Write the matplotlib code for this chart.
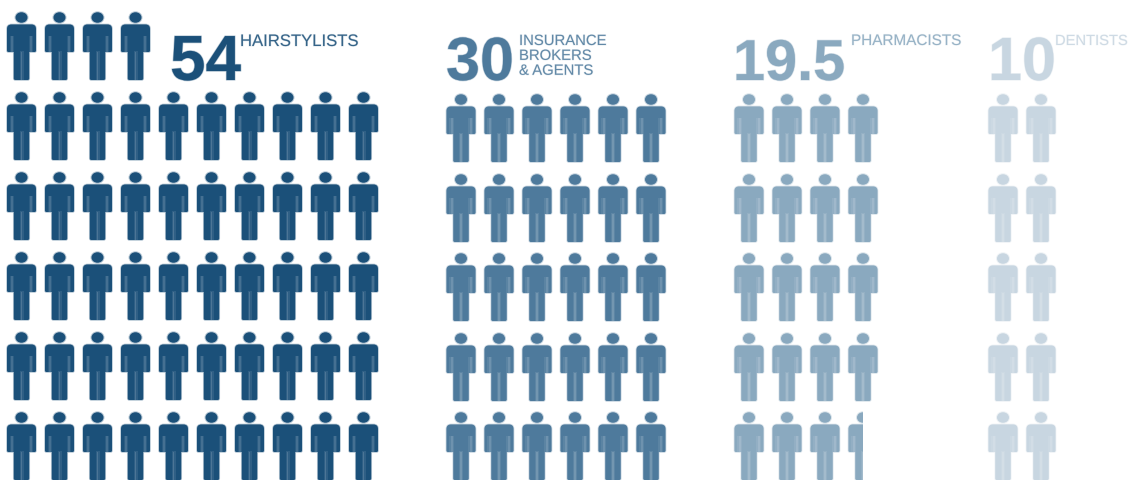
import math
import matplotlib
matplotlib.use("Agg")
import matplotlib.pyplot as plt
from matplotlib.patches import Ellipse, Rectangle, PathPatch
from matplotlib.path import Path
import matplotlib.patheffects as pe

# data
occupations = ["HAIRSTYLISTS", "INSURANCE\nBROKERS\n& AGENTS", "PHARMACISTS", "DENTISTS"]
value_labels = ["54", "30", "19.5", "10"]
values = [54, 30, 19.5, 10]
per_row = [10, 6, 4, 2]

colors = ["#1B5079", "#4E7A9C", "#8AA9BF", "#C8D6E1"]
first_x = [21.5, 461, 749, 1003]
row_tops = [[12, 92, 172, 252, 332, 412],
            [None, 94, 174, 253, 333, 412],
            [None, 94, 174, 253, 333, 412],
            [None, 94, 174, 253, 333, 412]]
num_x = [170, 446, 733, 988]
num_size = [46, 44, 41.5, 44]
label_x = [240, 519, 851, 1055]
label_y = [34, 34, 34, 34]
label_size = [12, 10.7, 11, 10.6]
STEP = 38
HALF = 14.5

fig = plt.figure(figsize=(11.28, 4.8), dpi=100)
ax = fig.add_axes([0, 0, 1, 1])
ax.set_xlim(0, 1128)
ax.set_ylim(480, 0)
ax.axis("off")


def body_path(cx, top):
    """Standing figure outline with rounded shoulders, relative to centre and top."""
    L, C, Z = Path.LINETO, Path.CURVE3, Path.CLOSEPOLY
    steps = [(Path.MOVETO, -10, 12.5), (L, 10, 12.5), (C, 14.5, 12.5), (C, 14.5, 17),
             (L, 14.5, 38.5), (C, 14.5, 40), (C, 13, 40), (L, 7.7, 40), (L, 7.7, 66.5),
             (C, 7.7, 68), (C, 6, 68), (L, -6, 68), (C, -7.7, 68), (C, -7.7, 66.5),
             (L, -7.7, 40), (L, -13, 40), (C, -14.5, 40), (C, -14.5, 38.5),
             (L, -14.5, 17), (C, -14.5, 12.5), (C, -10, 12.5), (Z, -10, 12.5)]
    return Path([(cx + x, top + y) for _, x, y in steps], [s[0] for s in steps])


def person(cx, top, color, fraction=1.0):
    artists = [
        PathPatch(body_path(cx, top), fc=color, ec=color, lw=1.2, alpha=0.3),
        Ellipse((cx, top + 5.5), 14, 12.5, fc=color, ec="none", alpha=0.3),
        Ellipse((cx, top + 5.5), 12, 10.5, fc=color, ec="none"),
        PathPatch(body_path(cx, top), fc=color, ec="none"),
    ]
    for dx in (-9.5, 9.5):
        artists.append(Rectangle((cx + dx - 2.2, top + 24), 4.4, 16, fc="white",
                                 ec="none", alpha=0.08))
        artists.append(Rectangle((cx + dx - 1.0, top + 24), 2.0, 16, fc="white",
                                 ec="none", alpha=0.12))
    artists.append(Rectangle((cx - 2.0, top + 39), 4.0, 29, fc="white", ec="none",
                             alpha=0.09))
    artists.append(Rectangle((cx - 0.9, top + 40), 1.8, 28, fc="white", ec="none",
                             alpha=0.14))
    for a in artists:
        ax.add_patch(a)
    if fraction < 1:
        clip = Rectangle((cx - HALF - 3, top - 2), (2 * HALF) * fraction + 3, 74,
                         transform=ax.transData)
        for a in artists:
            a.set_clip_path(clip)


for i, val in enumerate(values):
    whole = math.ceil(val)
    rows = math.ceil(whole / per_row[i])
    first_count = whole - (rows - 1) * per_row[i]
    tops = row_tops[i][-rows:]
    drawn = 0
    for r, top in enumerate(tops):
        n = first_count if r == 0 else per_row[i]
        for c in range(n):
            drawn += 1
            frac = val - (drawn - 1) if drawn == whole else 1.0
            person(first_x[i] + c * STEP, top, colors[i], min(frac, 1.0))

    ax.text(num_x[i], 80, value_labels[i], family="Liberation Sans", weight="bold",
            fontsize=num_size[i], color=colors[i], ha="left", va="baseline",
            path_effects=[pe.withStroke(linewidth=1.0, foreground=colors[i], alpha=0.3)])
    ax.text(label_x[i], label_y[i], occupations[i], family="Liberation Sans",
            fontsize=label_size[i], color=colors[i], ha="left", va="top",
            linespacing=1.08, alpha=0.85,
            path_effects=[pe.withStroke(linewidth=0.8, foreground=colors[i], alpha=0.15)])

fig.savefig("out.png", dpi=100)
